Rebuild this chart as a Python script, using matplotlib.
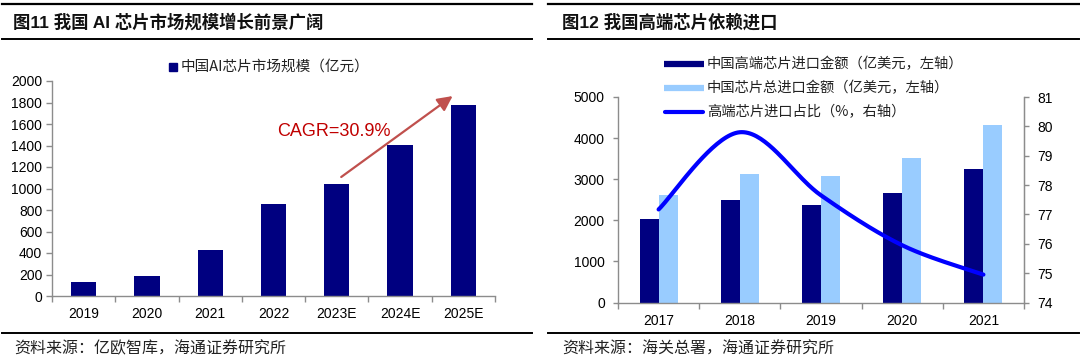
import numpy as np
import matplotlib
matplotlib.use("Agg")
import matplotlib.pyplot as plt
from matplotlib.lines import Line2D

# ---------------- data ----------------
left_title = "图11 我国 AI 芯片市场规模增长前景广阔"
left_categories = ["2019", "2020", "2021", "2022", "2023E", "2024E", "2025E"]
left_values = [127, 189, 428, 853, 1039, 1405, 1780]
left_series = "中国AI芯片市场规模（亿元）"
left_source = "资料来源：亿欧智库，海通证券研究所"
cagr_label = "CAGR=30.9%"

right_title = "图12 我国高端芯片依赖进口"
right_categories = ["2017", "2018", "2019", "2020", "2021"]
highend_import = [2020, 2505, 2384, 2675, 3257]
total_import = [2610, 3127, 3071, 3515, 4330]
highend_share = [77.17, 79.8, 77.65, 75.95, 74.95]
right_series = ["中国高端芯片进口金额（亿美元，左轴）",
                "中国芯片总进口金额（亿美元，左轴）",
                "高端芯片进口占比（%，右轴）"]
right_source = "资料来源：海关总署，海通证券研究所"

# ---------------- style ----------------
W, H = 1080, 359
LAT = ["Liberation Sans", "Noto Sans CJK SC", "DejaVu Sans"]
CJK = ["Noto Sans CJK SC", "Liberation Sans", "DejaVu Sans"]
plt.rcParams["font.family"] = LAT
NAVY = "#000080"
LIGHT = "#99CCFF"
BLUE = "#0000FF"
SPINE = "#8c8c8c"

fig = plt.figure(figsize=(W / 100, H / 100), dpi=100)


def fx(px):
    return px / W


def fy(py):
    return 1 - py / H


def hline(x0, x1, y, lw=1.5):
    fig.add_artist(Line2D([fx(x0), fx(x1)], [fy(y), fy(y)], color="black", lw=lw))


# header / footer rules
for (x0, x1) in [(2, 532), (548, 1079)]:
    hline(x0, x1, 4, 1.6)
    hline(x0, x1, 39, 1.4)
    hline(x0, x1, 333, 1.4)

fig.text(fx(13), fy(22), left_title, fontsize=12.5, fontweight="bold",
         family=LAT, va="center", ha="left", color="#111111")
fig.text(fx(562), fy(22), right_title, fontsize=12.5, fontweight="bold",
         family=LAT, va="center", ha="left", color="#111111")
fig.text(fx(14), fy(349), left_source, fontsize=11.5, family=CJK,
         va="center", ha="left", color="#222222")
fig.text(fx(562), fy(349), right_source, fontsize=11.5, family=CJK,
         va="center", ha="left", color="#222222")


def style_axis(ax):
    for s in ax.spines.values():
        s.set_color(SPINE)
        s.set_linewidth(1.0)
    ax.spines["top"].set_visible(False)


# ---------------- left chart ----------------
axL = fig.add_axes([fx(52), fy(296), fx(495) - fx(52), (296 - 81) / H])
xL = np.arange(len(left_categories))
axL.bar(xL, left_values, width=0.4, color=NAVY)
axL.set_xlim(-0.5, len(left_categories) - 0.5)
axL.set_ylim(0, 2000)
axL.set_yticks(np.arange(0, 2001, 200))
axL.set_xticks(xL)
axL.set_xticklabels(left_categories)
axL.set_xticks(np.arange(-0.5, len(left_categories), 1), minor=True)
style_axis(axL)
axL.spines["right"].set_visible(False)
axL.tick_params(axis="y", length=4, width=1, color=SPINE, pad=3, labelsize=10)
axL.tick_params(axis="x", which="major", length=0, pad=8, labelsize=10)
axL.tick_params(axis="x", which="minor", length=4, width=1, color=SPINE)
axL.annotate("", xy=(5.83, 1860), xytext=(4.07, 1107),
             arrowprops=dict(arrowstyle="-|>,head_length=0.9,head_width=0.45",
                             color="#C0504D", lw=1.6, shrinkA=0, shrinkB=0))
axL.text(3.05, 1526, cagr_label, color="#C00000", fontsize=13,
         ha="left", va="center")

# left legend
fig.add_artist(Line2D([fx(173)], [fy(67)], marker="s", markersize=6,
                      color=NAVY, lw=0))
fig.text(fx(181), fy(67), left_series, fontsize=10.5, family=CJK,
         va="center", ha="left", color="#222222")

# ---------------- right chart ----------------
axR = fig.add_axes([fx(618), fy(302.5), fx(1024) - fx(618), (302.5 - 97) / H])
xR = np.arange(len(right_categories))
bw = 0.234
axR.bar(xR - bw / 2, highend_import, width=bw, color=NAVY)
axR.bar(xR + bw / 2, total_import, width=bw, color=LIGHT)
axR.set_xlim(-0.5, len(right_categories) - 0.5)
axR.set_ylim(0, 5000)
axR.set_yticks(np.arange(0, 5001, 1000))
axR.set_xticks(xR)
axR.set_xticklabels(right_categories)
axR.set_xticks(np.arange(-0.5, len(right_categories), 1), minor=True)
style_axis(axR)
axR.tick_params(axis="y", length=3.5, width=1, color=SPINE, pad=6, labelsize=10)
axR.tick_params(axis="x", which="major", length=0, pad=8, labelsize=10)
axR.tick_params(axis="x", which="minor", length=4, width=1, color=SPINE)

axR2 = axR.twinx()
axR2.set_ylim(74, 81)
axR2.set_yticks(np.arange(74, 82, 1))
for s in axR2.spines.values():
    s.set_visible(False)
axR2.spines["right"].set_visible(True)
axR2.spines["right"].set_color(SPINE)
axR2.tick_params(axis="y", length=3.5, width=1, color=SPINE, pad=6, labelsize=10)


def excel_smooth(xs, ys, n=40):
    P = np.column_stack([xs, ys]).astype(float)
    out = []
    for i in range(len(P) - 1):
        p0 = P[max(i - 1, 0)]
        p1 = P[i]
        p2 = P[i + 1]
        p3 = P[min(i + 2, len(P) - 1)]
        c1 = p1 + (p2 - p0) / 6
        c2 = p2 - (p3 - p1) / 6
        t = np.linspace(0, 1, n)[:, None]
        seg = ((1 - t) ** 3) * p1 + 3 * ((1 - t) ** 2) * t * c1 + \
            3 * (1 - t) * t ** 2 * c2 + t ** 3 * p2
        out.append(seg if i == 0 else seg[1:])
    return np.vstack(out)


curve = excel_smooth(xR, highend_share)
axR2.plot(curve[:, 0], curve[:, 1], color=BLUE, lw=3.0,
          solid_capstyle="round")

# right legend
rows = [64, 88, 112]
fig.add_artist(Line2D([fx(664), fx(704)], [fy(rows[0])] * 2, color=NAVY,
                      lw=4.5, solid_capstyle="butt"))
fig.add_artist(Line2D([fx(664), fx(704)], [fy(rows[1])] * 2, color=LIGHT,
                      lw=4.5, solid_capstyle="butt"))
fig.add_artist(Line2D([fx(665), fx(703)], [fy(rows[2])] * 2, color=BLUE,
                      lw=3.0, solid_capstyle="round"))
for r, lab in zip(rows, right_series):
    fig.text(fx(707), fy(r), lab, fontsize=10.3, family=CJK,
             va="center", ha="left", color="#222222")

fig.savefig("out.png", dpi=100)
